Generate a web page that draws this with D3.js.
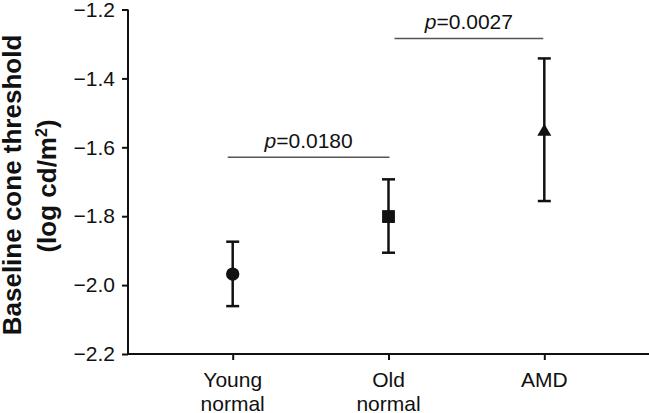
<!DOCTYPE html>
<html>
<head>
<meta charset="utf-8">
<script src="https://cdn.jsdelivr.net/npm/d3@7"></script>
<style>
  body { margin: 0; background: #fff; }
  text { font-family: "Liberation Sans", Arial, sans-serif; fill: #111; }
</style>
</head>
<body>
<script>
// data
var groups = ['Young normal', 'Old normal', 'AMD'];
var means = [-1.968, -1.801, -1.555];
var upper = [-1.874, -1.693, -1.342];
var lower = [-2.061, -1.906, -1.756];
var shapes = ['circle', 'square', 'triangle'];
var yTicks = [-2.2, -2.0, -1.8, -1.6, -1.4, -1.2];
var pPairs = [[0, 1], [1, 2]];
var pValues = ['0.0180', '0.0027'];
var pLevels = [-1.629, -1.284];

var width = 649, height = 413;
var plotLeft = 128, plotTop = 9.5, plotBottom = 354;

var svg = d3.select('body').append('svg')
    .attr('width', width)
    .attr('height', height);

var x = d3.scalePoint()
    .domain(groups)
    .range([plotLeft, width])
    .padding(0.672);

var y = d3.scaleLinear()
    .domain([-2.2, -1.2])
    .range([plotBottom, plotTop]);

// y axis
var yAxis = svg.append('g')
    .attr('transform', 'translate(' + plotLeft + ',0)')
    .call(d3.axisLeft(y).tickValues(yTicks).tickSize(6).tickPadding(7)
        .tickFormat(function (d) { return d3.format('.1f')(d).replace('-', '\u2212'); }));
yAxis.select('.domain').attr('d', 'M0,' + plotTop + 'V' + plotBottom);
yAxis.selectAll('line, path').attr('stroke', '#111').attr('stroke-width', 2);
yAxis.selectAll('text').style('font-size', '21px').attr('fill', '#111');

// x axis
var xAxis = svg.append('g')
    .attr('transform', 'translate(0,' + plotBottom + ')')
    .call(d3.axisBottom(x).tickSize(6).tickFormat(''));
xAxis.select('.domain').attr('d', 'M' + (plotLeft - 1) + ',0H' + width);
xAxis.selectAll('line, path').attr('stroke', '#111').attr('stroke-width', 2);

// two line category labels
groups.forEach(function (g) {
    var words = g.split(' ');
    var t = svg.append('text')
        .attr('text-anchor', 'middle')
        .style('font-size', '21px');
    words.forEach(function (w, i) {
        t.append('tspan')
            .attr('x', x(g))
            .attr('y', 387 + i * 24)
            .text(w);
    });
});

// y axis title
svg.append('text')
    .attr('transform', 'translate(21,185) rotate(-90)')
    .attr('text-anchor', 'middle')
    .style('font-size', '26px')
    .style('font-weight', 'bold')
    .text('Baseline cone threshold');

var title2 = svg.append('text')
    .attr('transform', 'translate(56,186) rotate(-90)')
    .attr('text-anchor', 'middle')
    .style('font-size', '26px')
    .style('font-weight', 'bold');
title2.append('tspan').text('(log cd/m');
title2.append('tspan').attr('dy', -9).style('font-size', '16px').text('2');
title2.append('tspan').attr('dy', 9).text(')');

// error bars
var cap = 6.5;
groups.forEach(function (g, i) {
    var cx = x(g);
    svg.append('line')
        .attr('x1', cx).attr('x2', cx)
        .attr('y1', y(upper[i])).attr('y2', y(lower[i]))
        .attr('stroke', '#111').attr('stroke-width', 2.5);
    [upper[i], lower[i]].forEach(function (v) {
        svg.append('line')
            .attr('x1', cx - cap).attr('x2', cx + cap)
            .attr('y1', y(v)).attr('y2', y(v))
            .attr('stroke', '#111').attr('stroke-width', 2.5);
    });
});

// markers
var symbolType = { circle: d3.symbolCircle, square: d3.symbolSquare, triangle: d3.symbolTriangle };
var symbolSize = { circle: 140, square: 165, triangle: 85 };
groups.forEach(function (g, i) {
    svg.append('path')
        .attr('d', d3.symbol().type(symbolType[shapes[i]]).size(symbolSize[shapes[i]])())
        .attr('transform', 'translate(' + x(g) + ',' + y(means[i]) + ')')
        .attr('fill', '#111');
});

// significance brackets
var startOff = [-5, 6], endOff = [1, -1];
pPairs.forEach(function (pair, i) {
    var x1 = x(groups[pair[0]]) + startOff[i];
    var x2 = x(groups[pair[1]]) + endOff[i];
    var ly = y(pLevels[i]);
    svg.append('line')
        .attr('x1', x1).attr('x2', x2)
        .attr('y1', ly).attr('y2', ly)
        .attr('stroke', '#555').attr('stroke-width', 1.5);
    var t = svg.append('text')
        .attr('x', (x1 + x2) / 2)
        .attr('y', ly - 9)
        .attr('text-anchor', 'middle')
        .style('font-size', '21px');
    t.append('tspan').style('font-style', 'italic').text('p');
    t.append('tspan').text('=' + pValues[i]);
});
</script>
</body>
</html>
